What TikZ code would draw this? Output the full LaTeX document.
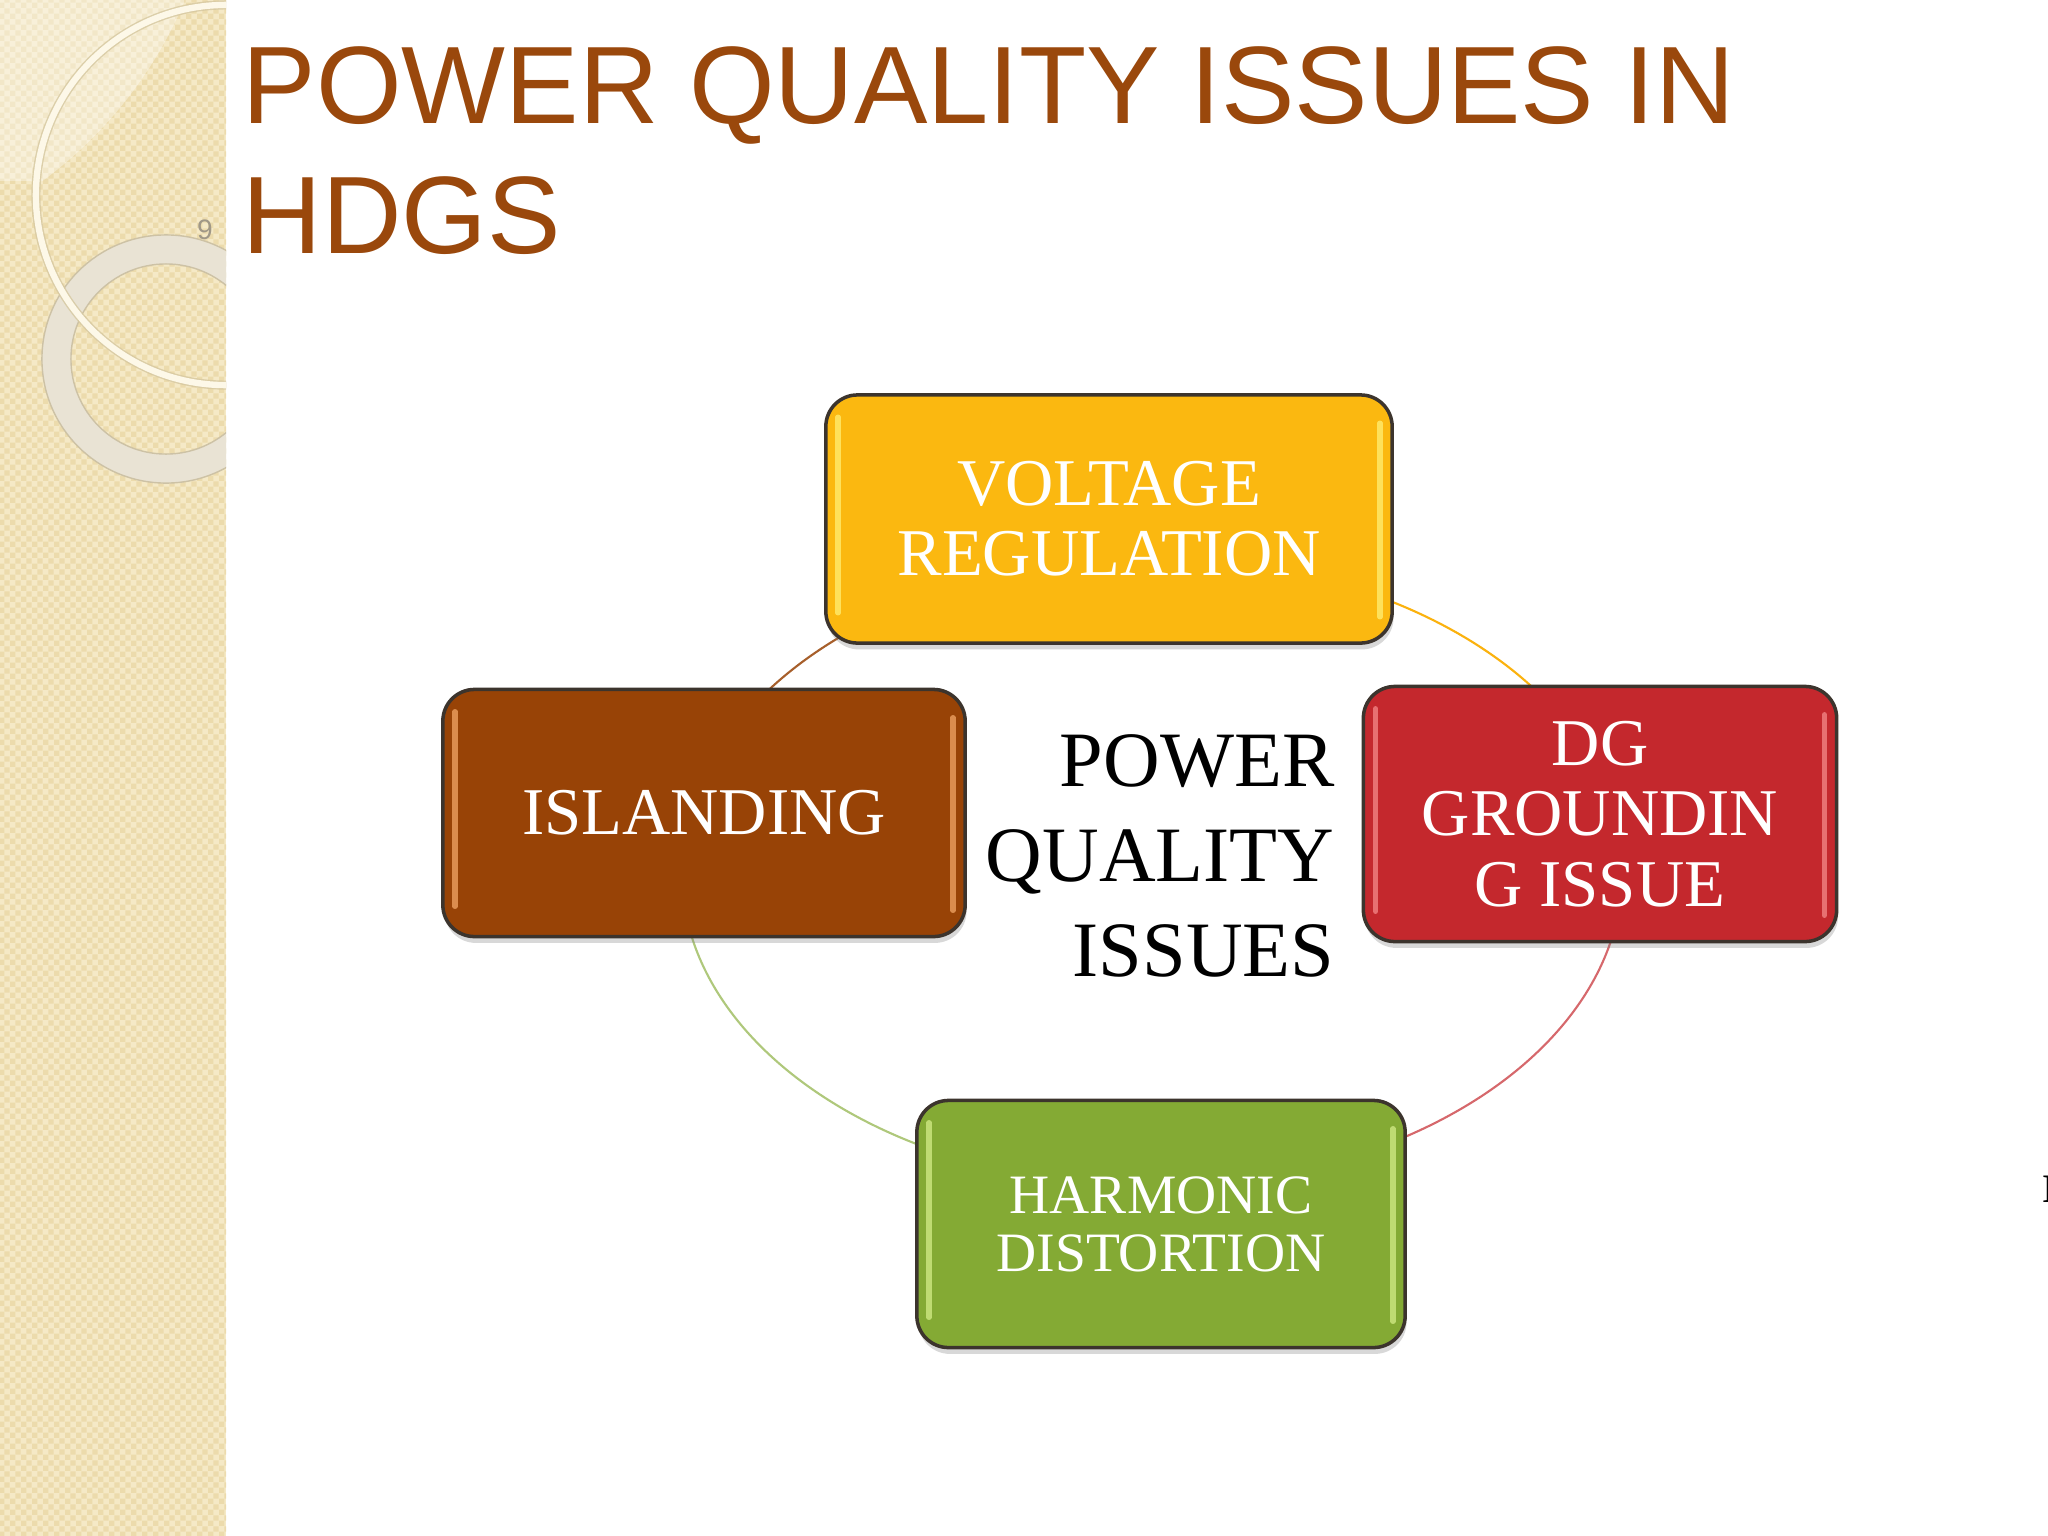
\documentclass[tikz,border=0pt]{standalone}
\usepackage{fontspec}
\setmainfont{Liberation Serif}
\newfontfamily\slidefont{Liberation Sans}
\usetikzlibrary{shadows,patterns.meta}

\definecolor{slidebrown}{RGB}{154,72,12}
\definecolor{stripbase}{RGB}{245,233,198}
\definecolor{stripdot}{RGB}{236,219,172}
\definecolor{ringfill}{RGB}{233,227,212}
\definecolor{ringedge}{RGB}{205,194,165}
\definecolor{loopedge}{RGB}{214,200,160}
\definecolor{loopcream}{RGB}{253,248,232}
\definecolor{pagegrey}{RGB}{160,152,135}
\definecolor{voltfill}{RGB}{251,184,16}
\definecolor{voltglow}{RGB}{255,236,110}
\definecolor{islfill}{RGB}{152,67,6}
\definecolor{islglow}{RGB}{236,160,96}
\definecolor{dgfill}{RGB}{196,40,45}
\definecolor{dgglow}{RGB}{240,130,130}
\definecolor{harmfill}{RGB}{132,170,52}
\definecolor{harmglow}{RGB}{206,232,130}
\definecolor{boxedge}{RGB}{60,52,45}

\tikzdeclarepattern{
  name=stripcheck,
  type=uncolored,
  bottom left={(0pt,0pt)},
  top right={(3.2pt,3.2pt)},
  tile size={(3.2pt,3.2pt)},
  code={
    \fill (0pt,0pt) rectangle (1.6pt,1.6pt);
    \fill (1.6pt,1.6pt) rectangle (3.2pt,3.2pt);
  }
}

\begin{document}
\begin{tikzpicture}[x=0.01cm,y=-0.01cm]
	\tikzset{
	    issue/.style={draw=boxedge,line width=1pt,rounded corners=9pt,text=white,align=center,inner sep=0pt,
	        drop shadow={shadow xshift=0.4pt,shadow yshift=-1.8pt,opacity=.3}},
	    glow/.style={draw=#1,line width=1.5pt,line cap=round,opacity=.8},
	    cycle/.style={draw=#1,line width=0.6pt},
	    boxfont/.style={font=\fontsize{19}{20}\selectfont}
	}

	    \useasboundingbox (0,0) rectangle (2048,1536);
	    \fill[white] (0,0) rectangle (2048,1536);

	    \begin{scope}
	    \clip (0,0) rectangle (226,1536);
	    \fill[stripbase] (0,0) rectangle (226,1536);
	    \fill[pattern=stripcheck,pattern color=stripdot] (0,0) rectangle (226,1536);
	    \begin{scope}
	    \clip (0,0) rectangle (184,180);
	    \fill[white,opacity=.35] (-212,-166) circle[radius=4.3cm];
	    \end{scope}
	    \fill[even odd rule,fill=ringfill,draw=ringedge,line width=0.4pt]
	        (166,359) circle[radius=1.24cm] (166,359) circle[radius=0.95cm];
	    \draw[loopedge,line width=2.6pt,opacity=.8] (226,195) circle[radius=1.9cm];
	    \draw[loopcream,line width=1.8pt] (226,195) circle[radius=1.9cm];
	    \end{scope}

	    \node[font=\slidefont\fontsize{8}{8}\selectfont,text=pagegrey] (pageno) at (205,230) {9};

	    \node[anchor=north west,inner sep=0pt,align=left,text=slidebrown,font=\slidefont\fontsize{31.3}{37}\selectfont] (title) at (242,46) {POWER QUALITY ISSUES IN\\HDGS};

	    \coordinate (hub) at (1152,872);
	    \draw[cycle=islfill!85] (hub) ++(180:4.7cm and 3.14cm) arc[start angle=180,end angle=90,x radius=4.7cm,y radius=3.14cm];
	    \draw[cycle=voltfill!90!orange] (hub) ++(90:4.7cm and 3.14cm) arc[start angle=90,end angle=0,x radius=4.7cm,y radius=3.14cm];
	    \draw[cycle=dgfill!70!white] (hub) ++(0:4.7cm and 3.14cm) arc[start angle=0,end angle=-90,x radius=4.7cm,y radius=3.14cm];
	    \draw[cycle=harmfill!65!white] (hub) ++(-90:4.7cm and 3.14cm) arc[start angle=-90,end angle=-180,x radius=4.7cm,y radius=3.14cm];

	    \node[issue,boxfont,fill=voltfill,minimum width=5.66cm,minimum height=2.48cm] (volt) at (1109,519) {VOLTAGE\\REGULATION};
	    \node[issue,boxfont,fill=islfill,minimum width=5.22cm,minimum height=2.47cm] (isl) at (704,813) {ISLANDING};
	    \node[issue,boxfont,fill=dgfill,minimum width=4.73cm,minimum height=2.55cm] (dg) at (1600,814) {DG\\GROUNDIN\\G ISSUE};
	    \node[issue,fill=harmfill,minimum width=4.88cm,minimum height=2.47cm,font=\fontsize{15.8}{16.5}\selectfont] (harm) at (1161,1224) {HARMONIC\\DISTORTION};

	    \foreach \n/\c in {volt/voltglow,isl/islglow,dg/dgglow,harm/harmglow}{
	        \draw[glow=\c] ([shift={(14,24)}]\n.north west) -- ([shift={(14,-32)}]\n.south west);
	        \draw[glow=\c] ([shift={(-14,30)}]\n.north east) -- ([shift={(-14,-28)}]\n.south east);
	    }

	    \node[anchor=north east,inner sep=0pt,align=right,font=\fontsize{22.3}{27}\selectfont] (pq) at (1335,734) {POWER\\QUALITY\\ISSUES};

	    \node[anchor=base west,inner sep=0pt,font=\bfseries\fontsize{11.5}{12}\selectfont] (edgechar) at (2042,1202) {I};

\end{tikzpicture}
\end{document}
